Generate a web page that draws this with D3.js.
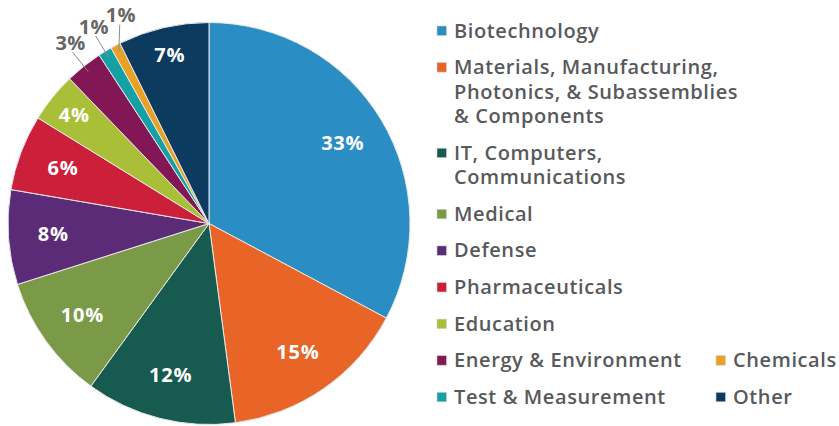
<!DOCTYPE html>
<html>
<head>
<meta charset="utf-8">
<script src="https://cdn.jsdelivr.net/npm/d3@7"></script>
<style>
  body { margin: 0; background: #ffffff; }
  svg { display: block; }
</style>
</head>
<body>
<div id="chart"></div>
<script>
// Data (clockwise from 12 o'clock)
const categories = ["Biotechnology", "Materials, Manufacturing, Photonics, & Subassemblies & Components",
    "IT, Computers, Communications", "Medical", "Defense", "Pharmaceuticals", "Education",
    "Energy & Environment", "Test & Measurement", "Chemicals", "Other"]
const shares = [32.8, 15.1, 12.1, 10.1, 7.6, 6.1, 4.0, 3.0, 1.1, 0.8, 7.3]
const pctLabels = ["33%", "15%", "12%", "10%", "8%", "6%", "4%", "3%", "1%", "1%", "7%"]
const colors = ["#2a8dc3", "#e86427", "#175a50", "#7a9a48", "#5c2b78", "#cc1f3a",
    "#a9bf38", "#831655", "#15a0a6", "#e8a124", "#0d3a5f"]
// legend text split into lines
const legendLines = [["Biotechnology"], ["Materials, Manufacturing,", "Photonics, & Subassemblies", "& Components"],
    ["IT, Computers,", "Communications"], ["Medical"], ["Defense"], ["Pharmaceuticals"], ["Education"],
    ["Energy & Environment"], ["Test & Measurement"], ["Chemicals"], ["Other"]]
const legendColumn = [0, 0, 0, 0, 0, 0, 0, 0, 0, 1, 1]

const data = categories.map((c, i) => ({name: c, value: shares[i], label: pctLabels[i], color: colors[i], lines: legendLines[i], col: legendColumn[i]}))

const w = 839, h = 426
const cx = 209, cy = 223.5, R = 201
const textGray = "#58595b"
const font = "'Open Sans', sans-serif"

const svg = d3.select("#chart").append("svg")
    .attr("width", w)
    .attr("height", h)

// PIE
const pie = d3.pie().value(d => d.value).sort(null)
const arcs = pie(data)
const arc = d3.arc().innerRadius(0).outerRadius(R)

const g = svg.append("g").attr("transform", `translate(${cx},${cy})`)

g.selectAll("path")
    .data(arcs)
    .enter()
    .append("path")
    .attr("d", arc)
    .attr("fill", d => d.data.color)
    .style("stroke", "#e8e8e8")
    .style("stroke-width", 1)

const mid = d => (d.startAngle + d.endAngle) / 2
const pt = (a, r) => [r * Math.sin(a), -r * Math.cos(a)]

// labels inside the bigger slices (pushed out a bit in the upper left)
const labelR = d => mid(d) > 5.2 ? 173 : 156
const inside = arcs.filter(d => d.data.value >= 3.5)
g.selectAll("text.inner")
    .data(inside)
    .enter()
    .append("text")
    .attr("class", "inner")
    .attr("x", d => pt(mid(d), labelR(d))[0])
    .attr("y", d => pt(mid(d), labelR(d))[1])
    .attr("dy", "0.35em")
    .attr("text-anchor", "middle")
    .style("font-family", font)
    .style("font-weight", 700)
    .style("font-size", "20px")
    .style("letter-spacing", "0.8px")
    .style("fill", "#ffffff")
    .text(d => d.data.label)

// small slices get leader lines and outside labels
const outside = arcs.filter(d => d.data.value < 3.5)
outside.forEach(d => {
    const a = mid(d)
    const p0 = pt(a, 194)
    let p1 = pt(a, 219)
    let tx = p1[0], ty = p1[1] - 9
    if (d.data.name === "Energy & Environment") tx -= 2
    if (d.data.name === "Test & Measurement") tx -= 2
    if (d.data.name === "Chemicals") { // goes straight up to clear its neighbour
        p1 = [p0[0] + 1, p0[1] - 27]
        tx = p1[0] + 1
        ty = p1[1] - 9.5
    }
    g.append("line")
        .attr("x1", p0[0]).attr("y1", p0[1])
        .attr("x2", p1[0]).attr("y2", p1[1])
        .style("stroke", "#8a8a8a")
        .style("stroke-width", 1)
    g.append("text")
        .attr("x", tx)
        .attr("y", ty)
        .attr("dy", "0.35em")
        .attr("text-anchor", "middle")
        .style("font-family", font)
        .style("font-weight", 700)
        .style("font-size", "20px")
        .style("letter-spacing", "0.4px")
        .style("fill", "#666666")
        .text(d.data.label)
})

// LEGEND
const colX = [437, 716]
const lineH = 24.5, groupGap = 36.6
let y = 37.5
const rowY = []
data.forEach((d, i) => {
    if (d.col === 0) {
        rowY[i] = y
        y += (d.lines.length - 1) * lineH + groupGap
    }
})
// second column sits next to the last two rows of the first
rowY[9] = rowY[7]
rowY[10] = rowY[8]

const legend = svg.append("g")
data.forEach((d, i) => {
    const x = colX[d.col]
    legend.append("rect")
        .attr("x", x)
        .attr("y", rowY[i] - 11.5)
        .attr("width", 9.5)
        .attr("height", 9.5)
        .attr("fill", d.color)
        .style("stroke", "#d0d0d0")
        .style("stroke-width", 0.6)
    const t = legend.append("text")
        .attr("x", x + 17)
        .attr("y", rowY[i])
        .style("font-family", font)
        .style("font-weight", 600)
        .style("font-size", "20px")
        .style("letter-spacing", "0.6px")
        .style("fill", textGray)
    d.lines.forEach((line, j) => {
        t.append("tspan")
            .attr("x", x + 17)
            .attr("y", rowY[i] + j * lineH)
            .text(line)
    })
})
</script>
</body>
</html>
